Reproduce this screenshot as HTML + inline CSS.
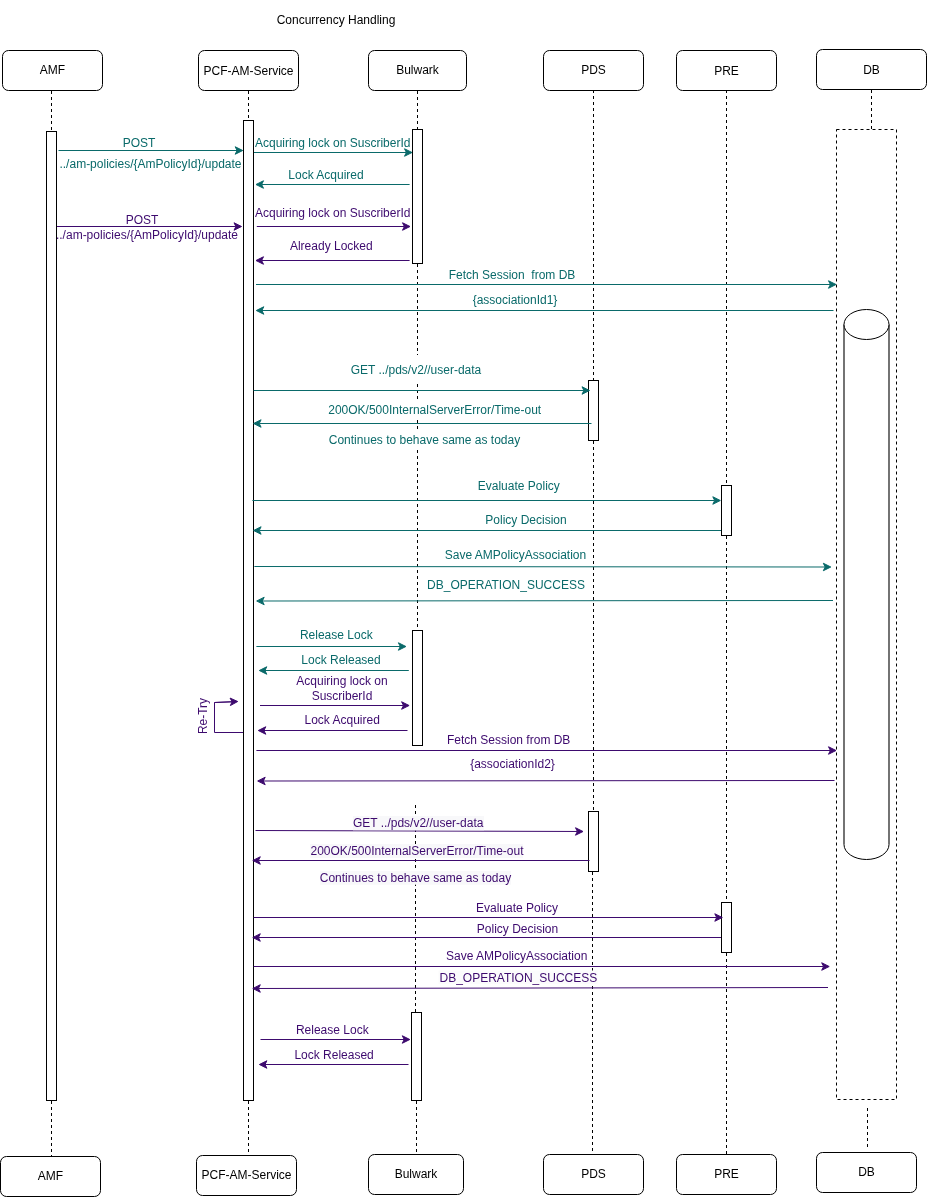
<!DOCTYPE html>
<html><head><meta charset="utf-8"><style>
html,body{margin:0;padding:0;background:#fff;}
svg{display:block;will-change:transform;font-family:"Liberation Sans",sans-serif;font-size:12px;}
</style></head><body>
<svg width="927" height="1197" viewBox="0 0 927 1197">
<rect x="0" y="0" width="927" height="1197" fill="#fff"/>
<text x="336" y="24" text-anchor="middle" fill="#000">Concurrency Handling</text>
<line x1="51.5" y1="91" x2="51.5" y2="131" stroke="#000" stroke-dasharray="3 3"/>
<line x1="51.5" y1="1101" x2="51.5" y2="1156" stroke="#000" stroke-dasharray="3 3"/>
<line x1="248.5" y1="91" x2="248.5" y2="120" stroke="#000" stroke-dasharray="3 3"/>
<line x1="248.5" y1="1101" x2="248.5" y2="1155" stroke="#000" stroke-dasharray="3 3"/>
<line x1="417.5" y1="91" x2="417.5" y2="129" stroke="#000" stroke-dasharray="3 3"/>
<line x1="417.5" y1="264" x2="417.5" y2="630" stroke="#000" stroke-dasharray="3 3"/>
<line x1="415.5" y1="805" x2="415.5" y2="1012" stroke="#000" stroke-dasharray="3 3"/>
<line x1="416.5" y1="1101" x2="416.5" y2="1154" stroke="#000" stroke-dasharray="3 3"/>
<line x1="593.5" y1="90" x2="593.5" y2="380" stroke="#000" stroke-dasharray="3 3"/>
<line x1="593.5" y1="441" x2="593.5" y2="811" stroke="#000" stroke-dasharray="3 3"/>
<line x1="592.5" y1="872" x2="592.5" y2="1154" stroke="#000" stroke-dasharray="3 3"/>
<line x1="726.5" y1="90" x2="726.5" y2="485" stroke="#000" stroke-dasharray="3 3"/>
<line x1="726.5" y1="536" x2="726.5" y2="902" stroke="#000" stroke-dasharray="3 3"/>
<line x1="726.5" y1="953" x2="726.5" y2="1154" stroke="#000" stroke-dasharray="3 3"/>
<line x1="871.5" y1="90" x2="871.5" y2="129" stroke="#000" stroke-dasharray="3 3"/>
<line x1="867.5" y1="1108" x2="867.5" y2="1148" stroke="#000" stroke-dasharray="3 3"/>
<rect x="836.5" y="129.5" width="60" height="970" fill="none" stroke="#000" stroke-dasharray="3 3"/>
<path d="M844.0,324.5 L844.0,844.5 A22.5,15 0 0 0 889.0,844.5 L889.0,324.5 Z" fill="#fff" stroke="none"/>
<line x1="844.0" y1="324.5" x2="844.0" y2="844.5" stroke="#000" stroke-width="1.1"/>
<line x1="889.0" y1="324.5" x2="889.0" y2="844.5" stroke="#000" stroke-width="1.1"/>
<path d="M844.0,844.5 A22.5,15 0 0 0 889.0,844.5" fill="none" stroke="#000" stroke-width="1"/>
<ellipse cx="866.5" cy="324.5" rx="22.5" ry="15" fill="#fff" stroke="#000"/>
<rect x="2.5" y="50.5" width="100" height="40" rx="6" ry="6" fill="#fff" stroke="#000" stroke-width="1"/>
<text x="52.5" y="73.7" text-anchor="middle" fill="#000">AMF</text>
<rect x="198.5" y="50.5" width="100" height="40" rx="6" ry="6" fill="#fff" stroke="#000" stroke-width="1"/>
<text x="248.5" y="74.7" text-anchor="middle" fill="#000">PCF-AM-Service</text>
<rect x="368.5" y="50.5" width="98" height="40" rx="6" ry="6" fill="#fff" stroke="#000" stroke-width="1"/>
<text x="417.5" y="73.7" text-anchor="middle" fill="#000">Bulwark</text>
<rect x="543.5" y="50.5" width="100" height="40" rx="6" ry="6" fill="#fff" stroke="#000" stroke-width="1"/>
<text x="593.5" y="73.7" text-anchor="middle" fill="#000">PDS</text>
<rect x="676.5" y="50.5" width="100" height="40" rx="6" ry="6" fill="#fff" stroke="#000" stroke-width="1"/>
<text x="726.5" y="74.7" text-anchor="middle" fill="#000">PRE</text>
<rect x="816.5" y="49.5" width="110" height="40" rx="6" ry="6" fill="#fff" stroke="#000" stroke-width="1"/>
<text x="871.5" y="73.7" text-anchor="middle" fill="#000">DB</text>
<rect x="0.5" y="1156.5" width="100" height="40" rx="6" ry="6" fill="#fff" stroke="#000" stroke-width="1"/>
<text x="50.5" y="1179.7" text-anchor="middle" fill="#000">AMF</text>
<rect x="196.5" y="1155.5" width="100" height="40" rx="6" ry="6" fill="#fff" stroke="#000" stroke-width="1"/>
<text x="246.5" y="1178.7" text-anchor="middle" fill="#000">PCF-AM-Service</text>
<rect x="368.5" y="1154.5" width="95" height="40" rx="6" ry="6" fill="#fff" stroke="#000" stroke-width="1"/>
<text x="416.0" y="1177.7" text-anchor="middle" fill="#000">Bulwark</text>
<rect x="543.5" y="1154.5" width="100" height="40" rx="6" ry="6" fill="#fff" stroke="#000" stroke-width="1"/>
<text x="593.5" y="1177.7" text-anchor="middle" fill="#000">PDS</text>
<rect x="676.5" y="1154.5" width="100" height="40" rx="6" ry="6" fill="#fff" stroke="#000" stroke-width="1"/>
<text x="726.5" y="1177.7" text-anchor="middle" fill="#000">PRE</text>
<rect x="816.5" y="1152.5" width="100" height="40" rx="6" ry="6" fill="#fff" stroke="#000" stroke-width="1"/>
<text x="866.5" y="1175.7" text-anchor="middle" fill="#000">DB</text>
<rect x="46.5" y="131.5" width="10" height="969.0" fill="#fff" stroke="#000"/>
<rect x="243.5" y="120.5" width="10" height="980.0" fill="#fff" stroke="#000"/>
<rect x="412.5" y="129.5" width="10" height="134.0" fill="#fff" stroke="#000"/>
<rect x="412.5" y="630.5" width="10" height="115.0" fill="#fff" stroke="#000"/>
<rect x="411.5" y="1012.5" width="10" height="88.0" fill="#fff" stroke="#000"/>
<rect x="588.5" y="380.5" width="10" height="60.0" fill="#fff" stroke="#000"/>
<rect x="588.5" y="811.5" width="10" height="60.0" fill="#fff" stroke="#000"/>
<rect x="721.5" y="485.5" width="10" height="50.0" fill="#fff" stroke="#000"/>
<rect x="721.5" y="902.5" width="10" height="50.0" fill="#fff" stroke="#000"/>
<rect x="351.8" y="355" width="130.39999999999998" height="26" fill="#fff"/>
<rect x="328.2" y="400.5" width="213.00000000000006" height="19.5" fill="#fff"/>
<rect x="328.8" y="431" width="191.40000000000003" height="19" fill="#fff"/>
<rect x="438.5" y="970.5" width="159.0" height="13.5" fill="#fbfbfc"/>
<rect x="445" y="949" width="142" height="13.5" fill="#fff" fill-opacity="0.5"/>
<line x1="58.5" y1="150.5" x2="237.10" y2="150.50" stroke="#0a6a6a"/>
<path d="M242.70,150.50 L235.20,154.25 L237.10,150.50 L235.20,146.75 Z" fill="#0a6a6a" stroke="#0a6a6a" stroke-width="1" stroke-linejoin="miter"/>
<text x="139" y="147" text-anchor="middle" fill="#0a6a6a">POST</text>
<text x="150.5" y="167.5" text-anchor="middle" fill="#0a6a6a">../am-policies/{AmPolicyId}/update</text>
<line x1="254" y1="152.5" x2="406.40" y2="152.50" stroke="#0a6a6a"/>
<path d="M412.00,152.50 L404.50,156.25 L406.40,152.50 L404.50,148.75 Z" fill="#0a6a6a" stroke="#0a6a6a" stroke-width="1" stroke-linejoin="miter"/>
<text x="332.7" y="147" text-anchor="middle" fill="#0a6a6a">Acquiring lock on SuscriberId</text>
<line x1="409.6" y1="184.5" x2="261.60" y2="184.50" stroke="#0a6a6a"/>
<path d="M256.00,184.50 L263.50,180.75 L261.60,184.50 L263.50,188.25 Z" fill="#0a6a6a" stroke="#0a6a6a" stroke-width="1" stroke-linejoin="miter"/>
<text x="326" y="179" text-anchor="middle" fill="#0a6a6a">Lock Acquired</text>
<line x1="256" y1="284.5" x2="830.40" y2="284.50" stroke="#0a6a6a"/>
<path d="M836.00,284.50 L828.50,288.25 L830.40,284.50 L828.50,280.75 Z" fill="#0a6a6a" stroke="#0a6a6a" stroke-width="1" stroke-linejoin="miter"/>
<text x="512" y="279" text-anchor="middle" fill="#0a6a6a">Fetch Session&#160; from DB</text>
<line x1="833.5" y1="310.5" x2="261.90" y2="310.50" stroke="#0a6a6a"/>
<path d="M256.30,310.50 L263.80,306.75 L261.90,310.50 L263.80,314.25 Z" fill="#0a6a6a" stroke="#0a6a6a" stroke-width="1" stroke-linejoin="miter"/>
<text x="515" y="303.5" text-anchor="middle" fill="#0a6a6a">{associationId1}</text>
<line x1="253.6" y1="390.5" x2="583.90" y2="390.50" stroke="#0a6a6a"/>
<path d="M589.50,390.50 L582.00,394.25 L583.90,390.50 L582.00,386.75 Z" fill="#0a6a6a" stroke="#0a6a6a" stroke-width="1" stroke-linejoin="miter"/>
<text x="416" y="374" text-anchor="middle" fill="#0a6a6a">GET ../pds/v2//user-data</text>
<line x1="591.5" y1="423.5" x2="259.20" y2="423.50" stroke="#0a6a6a"/>
<path d="M253.60,423.50 L261.10,419.75 L259.20,423.50 L261.10,427.25 Z" fill="#0a6a6a" stroke="#0a6a6a" stroke-width="1" stroke-linejoin="miter"/>
<text x="434.7" y="414" text-anchor="middle" fill="#0a6a6a">200OK/500InternalServerError/Time-out</text>
<text x="424.5" y="443.5" text-anchor="middle" fill="#0a6a6a">Continues to behave same as today</text>
<line x1="252.4" y1="500.5" x2="714.70" y2="500.50" stroke="#0a6a6a"/>
<path d="M720.30,500.50 L712.80,504.25 L714.70,500.50 L712.80,496.75 Z" fill="#0a6a6a" stroke="#0a6a6a" stroke-width="1" stroke-linejoin="miter"/>
<text x="518.8" y="490.3" text-anchor="middle" fill="#0a6a6a">Evaluate Policy</text>
<line x1="721" y1="530.5" x2="259.20" y2="530.50" stroke="#0a6a6a"/>
<path d="M253.60,530.50 L261.10,526.75 L259.20,530.50 L261.10,534.25 Z" fill="#0a6a6a" stroke="#0a6a6a" stroke-width="1" stroke-linejoin="miter"/>
<text x="526" y="523.8" text-anchor="middle" fill="#0a6a6a">Policy Decision</text>
<line x1="254.4" y1="566.5" x2="825.20" y2="567.00" stroke="#0a6a6a"/>
<path d="M830.80,567.00 L823.30,570.74 L825.20,567.00 L823.30,563.24 Z" fill="#0a6a6a" stroke="#0a6a6a" stroke-width="1" stroke-linejoin="miter"/>
<text x="515.5" y="559.4" text-anchor="middle" fill="#0a6a6a">Save AMPolicyAssociation</text>
<line x1="833" y1="600.5" x2="262.30" y2="601.00" stroke="#0a6a6a"/>
<path d="M256.70,601.00 L264.20,597.24 L262.30,601.00 L264.20,604.74 Z" fill="#0a6a6a" stroke="#0a6a6a" stroke-width="1" stroke-linejoin="miter"/>
<text x="506" y="589" text-anchor="middle" fill="#0a6a6a">DB_OPERATION_SUCCESS</text>
<line x1="256.4" y1="646.5" x2="400.30" y2="646.50" stroke="#0a6a6a"/>
<path d="M405.90,646.50 L398.40,650.25 L400.30,646.50 L398.40,642.75 Z" fill="#0a6a6a" stroke="#0a6a6a" stroke-width="1" stroke-linejoin="miter"/>
<text x="336.3" y="639.3" text-anchor="middle" fill="#0a6a6a">Release Lock</text>
<line x1="408.8" y1="670.5" x2="264.90" y2="670.50" stroke="#0a6a6a"/>
<path d="M259.30,670.50 L266.80,666.75 L264.90,670.50 L266.80,674.25 Z" fill="#0a6a6a" stroke="#0a6a6a" stroke-width="1" stroke-linejoin="miter"/>
<text x="341" y="664.2" text-anchor="middle" fill="#0a6a6a">Lock Released</text>
<line x1="57" y1="226.5" x2="235.90" y2="226.50" stroke="#3d0a6e"/>
<path d="M241.50,226.50 L234.00,230.25 L235.90,226.50 L234.00,222.75 Z" fill="#3d0a6e" stroke="#3d0a6e" stroke-width="1" stroke-linejoin="miter"/>
<text x="142" y="224" text-anchor="middle" fill="#3d0a6e">POST</text>
<text x="147" y="238.7" text-anchor="middle" fill="#3d0a6e">../am-policies/{AmPolicyId}/update</text>
<line x1="256.8" y1="226.5" x2="404.40" y2="226.50" stroke="#3d0a6e"/>
<path d="M410.00,226.50 L402.50,230.25 L404.40,226.50 L402.50,222.75 Z" fill="#3d0a6e" stroke="#3d0a6e" stroke-width="1" stroke-linejoin="miter"/>
<text x="332.7" y="217" text-anchor="middle" fill="#3d0a6e">Acquiring lock on SuscriberId</text>
<line x1="409.6" y1="260.5" x2="261.60" y2="260.50" stroke="#3d0a6e"/>
<path d="M256.00,260.50 L263.50,256.75 L261.60,260.50 L263.50,264.25 Z" fill="#3d0a6e" stroke="#3d0a6e" stroke-width="1" stroke-linejoin="miter"/>
<text x="331.3" y="249.8" text-anchor="middle" fill="#3d0a6e">Already Locked</text>
<line x1="260" y1="705.5" x2="403.50" y2="705.50" stroke="#3d0a6e"/>
<path d="M409.10,705.50 L401.60,709.25 L403.50,705.50 L401.60,701.75 Z" fill="#3d0a6e" stroke="#3d0a6e" stroke-width="1" stroke-linejoin="miter"/>
<text x="342" y="684.6" text-anchor="middle" fill="#3d0a6e">Acquiring lock on</text>
<text x="342" y="700.1" text-anchor="middle" fill="#3d0a6e">SuscriberId</text>
<line x1="407.5" y1="730.5" x2="263.90" y2="730.50" stroke="#3d0a6e"/>
<path d="M258.30,730.50 L265.80,726.75 L263.90,730.50 L265.80,734.25 Z" fill="#3d0a6e" stroke="#3d0a6e" stroke-width="1" stroke-linejoin="miter"/>
<text x="342.2" y="724.4" text-anchor="middle" fill="#3d0a6e">Lock Acquired</text>
<path d="M243,732.5 L214.5,732.5 L214.5,702.5 L232,701.8" fill="none" stroke="#3d0a6e"/>
<line x1="214.5" y1="702.5" x2="232.11" y2="701.74" stroke="#3d0a6e"/>
<path d="M237.70,701.50 L230.37,705.57 L232.11,701.74 L230.05,698.08 Z" fill="#3d0a6e" stroke="#3d0a6e" stroke-width="1" stroke-linejoin="miter"/>
<text x="0" y="0" text-anchor="middle" fill="#3d0a6e" transform="translate(207.2,716) rotate(-90)">Re-Try</text>
<line x1="256.4" y1="750.5" x2="830.40" y2="750.50" stroke="#3d0a6e"/>
<path d="M836.00,750.50 L828.50,754.25 L830.40,750.50 L828.50,746.75 Z" fill="#3d0a6e" stroke="#3d0a6e" stroke-width="1" stroke-linejoin="miter"/>
<text x="508.7" y="744.4" text-anchor="middle" fill="#3d0a6e">Fetch Session from DB</text>
<line x1="834.5" y1="780.5" x2="263.30" y2="781.00" stroke="#3d0a6e"/>
<path d="M257.70,781.00 L265.20,777.24 L263.30,781.00 L265.20,784.74 Z" fill="#3d0a6e" stroke="#3d0a6e" stroke-width="1" stroke-linejoin="miter"/>
<text x="512.5" y="768" text-anchor="middle" fill="#3d0a6e">{associationId2}</text>
<rect x="353" y="816" width="131" height="14.5" fill="#f8f8fa"/>
<rect x="310" y="844" width="213" height="14" fill="#f8f8fa"/>
<rect x="320" y="871" width="191" height="13.700000000000045" fill="#f8f8fa"/>
<line x1="255.5" y1="830.5" x2="577.40" y2="831.48" stroke="#3d0a6e"/>
<path d="M583.00,831.50 L575.49,835.23 L577.40,831.48 L575.51,827.73 Z" fill="#3d0a6e" stroke="#3d0a6e" stroke-width="1" stroke-linejoin="miter"/>
<rect x="353" y="816" width="131" height="14.299999999999955" fill="#f8f8fa"/>
<text x="418.2" y="827.3" text-anchor="middle" fill="#3d0a6e">GET ../pds/v2//user-data</text>
<line x1="589.5" y1="860.5" x2="258.40" y2="860.50" stroke="#3d0a6e"/>
<path d="M252.80,860.50 L260.30,856.75 L258.40,860.50 L260.30,864.25 Z" fill="#3d0a6e" stroke="#3d0a6e" stroke-width="1" stroke-linejoin="miter"/>
<text x="417" y="854.8" text-anchor="middle" fill="#3d0a6e">200OK/500InternalServerError/Time-out</text>
<text x="415.5" y="882" text-anchor="middle" fill="#3d0a6e">Continues to behave same as today</text>
<line x1="253.6" y1="917.5" x2="716.70" y2="917.50" stroke="#3d0a6e"/>
<path d="M722.30,917.50 L714.80,921.25 L716.70,917.50 L714.80,913.75 Z" fill="#3d0a6e" stroke="#3d0a6e" stroke-width="1" stroke-linejoin="miter"/>
<text x="517" y="911.8" text-anchor="middle" fill="#3d0a6e">Evaluate Policy</text>
<line x1="721" y1="937.5" x2="258.40" y2="937.50" stroke="#3d0a6e"/>
<path d="M252.80,937.50 L260.30,933.75 L258.40,937.50 L260.30,941.25 Z" fill="#3d0a6e" stroke="#3d0a6e" stroke-width="1" stroke-linejoin="miter"/>
<text x="517.5" y="932.8" text-anchor="middle" fill="#3d0a6e">Policy Decision</text>
<line x1="253.6" y1="966.5" x2="823.60" y2="966.50" stroke="#3d0a6e"/>
<path d="M829.20,966.50 L821.70,970.25 L823.60,966.50 L821.70,962.75 Z" fill="#3d0a6e" stroke="#3d0a6e" stroke-width="1" stroke-linejoin="miter"/>
<text x="516.7" y="959.9" text-anchor="middle" fill="#3d0a6e">Save AMPolicyAssociation</text>
<line x1="828" y1="987.5" x2="258.40" y2="988.49" stroke="#3d0a6e"/>
<path d="M252.80,988.50 L260.29,984.74 L258.40,988.49 L260.31,992.24 Z" fill="#3d0a6e" stroke="#3d0a6e" stroke-width="1" stroke-linejoin="miter"/>
<text x="518.4" y="981.6" text-anchor="middle" fill="#3d0a6e">DB_OPERATION_SUCCESS</text>
<line x1="260.5" y1="1039.5" x2="404.20" y2="1039.50" stroke="#3d0a6e"/>
<path d="M409.80,1039.50 L402.30,1043.25 L404.20,1039.50 L402.30,1035.75 Z" fill="#3d0a6e" stroke="#3d0a6e" stroke-width="1" stroke-linejoin="miter"/>
<text x="332.3" y="1034.2" text-anchor="middle" fill="#3d0a6e">Release Lock</text>
<line x1="408.5" y1="1064.5" x2="265.00" y2="1064.50" stroke="#3d0a6e"/>
<path d="M259.40,1064.50 L266.90,1060.75 L265.00,1064.50 L266.90,1068.25 Z" fill="#3d0a6e" stroke="#3d0a6e" stroke-width="1" stroke-linejoin="miter"/>
<text x="334.1" y="1059" text-anchor="middle" fill="#3d0a6e">Lock Released</text>
</svg>
</body></html>
